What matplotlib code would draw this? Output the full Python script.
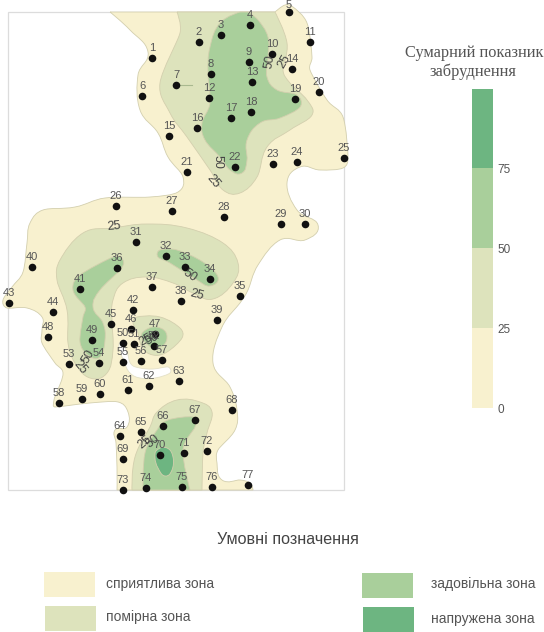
import matplotlib
matplotlib.use("Agg")
import matplotlib.pyplot as plt
from matplotlib.path import Path
from matplotlib.patches import PathPatch, Rectangle
import numpy as np

# ---------------- DATA ----------------
# station positions, numbered 1..77 in order
station_x = [152, 199, 221, 250, 289, 142, 176, 211, 249, 272, 310, 209, 252, 292, 169, 197, 231, 251, 295, 319,
             187, 235, 273, 297, 344, 116, 172, 224, 281, 305, 136, 166, 185, 210, 240, 117, 152, 181, 217, 32,
             80, 133, 9, 53, 111, 131, 155, 48, 92, 123, 134, 154, 69, 99, 123, 141, 162, 59, 82, 100,
             128, 149, 179, 120, 141, 163, 195, 232, 123, 160, 184, 207, 123, 146, 182, 212, 248]
station_y = [58, 42, 35, 25, 12, 96, 85, 74, 62, 54, 42, 98, 82, 69, 136, 128, 118, 112, 99, 92,
             172, 167, 164, 162, 158, 206, 211, 217, 224, 224, 242, 256, 267, 279, 296, 268, 287, 301, 320, 267,
             289, 310, 303, 312, 324, 329, 334, 337, 340, 343, 344, 346, 364, 363, 362, 361, 360, 403, 399, 394,
             390, 386, 381, 436, 432, 426, 420, 410, 459, 455, 453, 451, 490, 488, 487, 487, 485]

# zone outlines (a repeated point makes a sharp corner, used on the frame edges)
outer = [(110, 12), (110, 12), (130, 30), (148, 52), (138, 75), (140, 110), (158, 133), (168, 157), (183, 177),
         (178, 192), (150, 197), (105, 198), (75, 207), (43, 210), (30, 223), (27, 243), (23, 272), (12, 287),
         (3, 300), (7, 308), (27, 308), (42, 317), (42, 330), (42, 343), (55, 363), (63, 373), (57, 392),
         (54, 400), (55, 407), (90, 403), (118, 402), (128, 412), (127, 427), (115, 430), (116, 443), (117, 467),
         (117, 490), (117, 490), (253, 490), (253, 490), (250, 483), (240, 480), (222, 480), (217, 463),
         (218, 450), (235, 430), (237, 410), (230, 387), (213, 363), (222, 327), (240, 303), (248, 290),
         (258, 265), (280, 240), (305, 240), (318, 225), (297, 210), (287, 183), (300, 167), (320, 170),
         (343, 168), (348, 157), (343, 117), (327, 100), (310, 70), (312, 57), (307, 23), (293, 7), (285, 5),
         (275, 12), (275, 12)]
hole = [(121, 342), (127, 352), (131, 364), (140, 368), (153, 369), (168, 367), (170, 373), (155, 378),
        (140, 378), (130, 373), (124, 362), (119, 347)]
pale_north = [(177, 12), (177, 12), (180, 33), (160, 83), (170, 113), (187, 137), (210, 170), (223, 190), (240, 193),
              (257, 177), (267, 147), (290, 130), (312, 115), (307, 100), (290, 83), (283, 70), (287, 43),
              (275, 12), (275, 12)]
pale_middle = [(113, 228), (83, 233), (60, 260), (57, 280), (67, 310), (68, 343), (75, 363), (90, 378), (107, 373),
               (113, 350), (112, 320), (113, 300), (123, 283), (147, 277), (173, 283), (193, 293), (213, 299),
               (233, 283), (238, 263), (223, 243), (187, 228), (147, 224)]
pale_small = [(137, 317), (160, 317), (180, 328), (182, 338), (167, 352), (153, 355), (142, 347), (138, 333), (133, 323)]
pale_south = [(157, 412), (177, 400), (200, 402), (212, 412), (207, 433), (203, 453), (202, 490), (202, 490),
              (132, 490), (132, 490), (135, 457), (150, 427)]
mid_north = [(240, 12), (240, 12), (220, 23), (210, 47), (208, 73), (210, 103), (202, 123), (205, 140), (220, 157),
             (230, 170), (242, 173), (247, 160), (247, 140), (260, 123), (280, 118), (300, 107), (297, 95), (277, 90),
             (267, 77), (268, 57), (268, 37), (258, 20), (248, 12), (248, 12)]
mid_left = [(113, 257), (123, 260), (120, 270), (100, 290), (93, 307), (103, 323), (105, 340), (100, 357), (88, 355),
            (80, 342), (83, 317), (85, 307), (73, 290), (80, 275)]
mid_right = [(160, 250), (177, 250), (203, 262), (218, 277), (210, 286), (197, 280), (170, 263), (158, 257)]
mid_small = [(143, 332), (157, 327), (167, 337), (157, 348), (143, 340)]
mid_south = [(168, 420), (193, 417), (195, 427), (183, 450), (190, 490), (190, 490), (143, 490), (143, 490),
             (145, 453), (157, 430)]
dark_south = [(157, 450), (167, 448), (173, 457), (172, 470), (165, 476), (158, 468), (155, 458)]

# contour labels: text, x, y, rotation
contour_labels = [("25", 114, 226, 5), ("50", 218, 162, -90), ("25", 213, 181, -50), ("50", 190, 276, -35),
                  ("25", 197, 295, -15), ("50", 270, 62, 80), ("25", 284, 61, 60), ("50", 88, 356, 60),
                  ("25", 80, 367, -50), ("25", 146, 340, 30), ("50", 152, 339, 30), ("25", 145, 442, 40),
                  ("50", 153, 441, 40)]

bar_ticks = [0, 25, 50, 75]
bar_y = [408, 328, 248, 168, 89]

zone_names = ["сприятлива зона", "помірна зона", "задовільна зона", "напружена зона"]
zone_colors = ["#F8F1CF", "#DDE3BC", "#A9CF9B", "#6DB581"]

TEXT = "#555555"

# ---------------- UTILITIES ----------------
def blob(ax, pts, color):
    """Closed smooth outline; handles are capped by the shorter neighbour so it does not overshoot."""
    p = np.array(pts, dtype=float)
    n = len(p)
    handles = []
    for i in range(n):
        d = p[(i + 1) % n] - p[i - 1]
        a = np.linalg.norm(p[i] - p[i - 1])
        b = np.linalg.norm(p[(i + 1) % n] - p[i])
        size = np.linalg.norm(d)
        handles.append(d / size * min(a, b) * 0.42 if size > 0 else d)
    verts = [p[0]]
    codes = [Path.MOVETO]
    for i in range(n):
        j = (i + 1) % n
        verts += [p[i] + handles[i], p[j] - handles[j], p[j]]
        codes += [Path.CURVE4] * 3
    edge = "#D3CFAE" if color != "white" else "#E4E1C8"
    ax.add_patch(PathPatch(Path(verts, codes), facecolor=color, edgecolor=edge, lw=0.6))


def main():
    fig = plt.figure(figsize=(5.44, 6.32), dpi=100)
    ax = fig.add_axes([0, 0, 1, 1])
    ax.set_xlim(0, 544)
    ax.set_ylim(632, 0)
    ax.axis("off")

    ax.add_patch(Rectangle((8, 12), 336, 478, facecolor="white", edgecolor="#DCDCDC", lw=0.9))

    blob(ax, outer, zone_colors[0])
    blob(ax, hole, "white")
    for shape in (pale_north, pale_middle, pale_small, pale_south):
        blob(ax, shape, zone_colors[1])
    for shape in (mid_north, mid_left, mid_right, mid_small, mid_south):
        blob(ax, shape, zone_colors[2])
    blob(ax, dark_south, zone_colors[3])

    ax.plot([180, 192], [85, 85], color="#A9B98F", lw=0.8)

    ax.scatter(station_x, station_y, s=30, color="#111111", zorder=5, linewidths=0)
    for i, (x, y) in enumerate(zip(station_x, station_y)):
        ax.text(x, max(y - 10, 4.5), str(i + 1), fontsize=8, color=TEXT, ha="center", va="center",
                family="Liberation Sans", zorder=6)

    for txt, x, y, rot in contour_labels:
        ax.text(x, y, txt, fontsize=9, color="#444444", ha="center", va="center", rotation=rot,
                family="Liberation Sans", zorder=6)

    # colour bar
    for k in range(4):
        ax.add_patch(Rectangle((472, bar_y[k + 1]), 21, bar_y[k] - bar_y[k + 1],
                               facecolor=zone_colors[k], edgecolor="none"))
    for k, t in enumerate(bar_ticks):
        ax.text(497, bar_y[k] + 2, str(t), fontsize=8.5, color=TEXT, va="center", family="Liberation Sans")
    ax.text(474, 53, "Сумарний показник", fontsize=11.8, color=TEXT, ha="center", va="center", family="Liberation Serif")
    ax.text(473, 72, "забруднення", fontsize=11.8, color=TEXT, ha="center", va="center", family="Liberation Serif")

    # legend
    ax.text(288, 539, "Умовні позначення", fontsize=11.6, color="#444444", ha="center", va="center",
            family="Liberation Sans")
    swatch_x = [44, 45, 362, 363]
    swatch_y = [572, 606, 573, 607]
    text_x = [106, 106, 431, 431]
    text_y = [584, 617, 584, 619]
    for k in range(4):
        ax.add_patch(Rectangle((swatch_x[k], swatch_y[k]), 51, 25, facecolor=zone_colors[k], edgecolor="none"))
        ax.text(text_x[k], text_y[k], zone_names[k], fontsize=10, color=TEXT, va="center", family="Liberation Sans")

    fig.savefig("out.png", dpi=100)


if __name__ == "__main__":
    main()
